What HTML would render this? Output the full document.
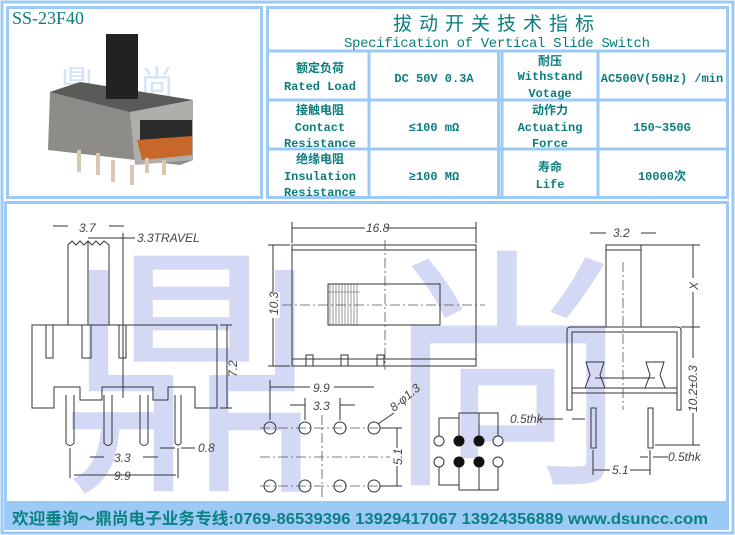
<!DOCTYPE html>
<html><head><meta charset="utf-8"><style>
html,body{margin:0;padding:0;background:#fff}
svg{display:block}
.t{fill:#0b7d7d;font-weight:bold;font-size:12px;text-anchor:middle;font-family:"Liberation Mono","Noto Sans CJK SC",monospace}
.d{fill:#444;font-style:italic;font-size:12px;font-family:"Liberation Sans",sans-serif}
.l{stroke:#333;stroke-width:1;fill:none}
.c{stroke:#555;stroke-width:0.8;fill:none;stroke-dasharray:10 3 2 3}
</style></head><body>
<svg width="735" height="535" viewBox="0 0 735 535" xmlns="http://www.w3.org/2000/svg">
<rect x="0" y="0" width="735" height="535" fill="#fff"/>
<g fill="none" stroke="#9ccaf6" stroke-width="3">
<rect x="2" y="2" width="731" height="531"/>
<rect x="7.5" y="7.5" width="254" height="190"/>
<rect x="267.5" y="7.5" width="460" height="190"/>
<rect x="5.5" y="202.5" width="722" height="300"/>
<line x1="268" y1="51" x2="727" y2="51"/>
<line x1="268" y1="100" x2="727" y2="100"/>
<line x1="268" y1="149" x2="727" y2="149"/>
<line x1="369" y1="51" x2="369" y2="197"/>
<line x1="498.5" y1="51" x2="498.5" y2="197"/>
<line x1="502" y1="51" x2="502" y2="197"/>
<line x1="598" y1="51" x2="598" y2="197"/>
</g>
<rect x="4" y="503" width="725" height="27" fill="#9ccaf6"/>
<!-- photo -->
<text x="12" y="24" style="font-family:'Liberation Serif',serif;font-size:18px" fill="#0b7d7d">SS-23F40</text>
<text x="60" y="95" style="font-family:'Noto Sans CJK SC',sans-serif;font-size:34px" fill="#d4e4f6">鼎</text>
<text x="140" y="95" style="font-family:'Noto Sans CJK SC',sans-serif;font-size:34px" fill="#d4e4f6">尚</text>
<polygon points="50,92 80,82 193,100 193,160 180,165 48,150" fill="#8e8c88"/>
<polygon points="50,92 80,82 193,100 130,112" fill="#5a5a58"/>
<polygon points="130,112 193,100 193,160 135,165" fill="#b0aeaa"/>
<rect x="140" y="120" width="52" height="20" fill="#2a2a2a"/>
<polygon points="137,140 192,136 192,155 142,160" fill="#c8672a"/>
<rect x="106" y="34" width="32" height="65" fill="#222"/>
<g fill="#d8c8b0"><rect x="77" y="150" width="4" height="22"/><rect x="96" y="153" width="4" height="22"/><rect x="111" y="160" width="4" height="22"/><rect x="130" y="165" width="4" height="20"/><rect x="145" y="158" width="4" height="15"/><rect x="162" y="160" width="4" height="15"/></g>
<!-- table -->
<text x="497" y="30" style="font-family:'Noto Sans CJK SC',sans-serif;font-size:19px;letter-spacing:7px" fill="#0b7d7d" text-anchor="middle">拔动开关技术指标</text>
<text x="344" y="47" style="font-family:'Liberation Mono',monospace;font-size:14px" fill="#0b7d7d" textLength="306">Specification of Vertical Slide Switch</text>
<text class="t" x="320" y="72">额定负荷</text><text class="t" x="320" y="90">Rated Load</text>
<text class="t" x="320" y="114">接触电阻</text><text class="t" x="320" y="131">Contact</text><text class="t" x="320" y="147">Resistance</text>
<text class="t" x="320" y="163">绝缘电阻</text><text class="t" x="320" y="180">Insulation</text><text class="t" x="320" y="196">Resistance</text>
<text class="t" x="434" y="82">DC 50V 0.3A</text>
<text class="t" x="434" y="131">≤100 mΩ</text>
<text class="t" x="434" y="180">≥100 MΩ</text>
<text class="t" x="550" y="65">耐压</text><text class="t" x="550" y="80">Withstand</text><text class="t" x="550" y="97">Votage</text>
<text class="t" x="550" y="114">动作力</text><text class="t" x="550" y="131">Actuating</text><text class="t" x="550" y="147">Force</text>
<text class="t" x="550" y="171">寿命</text><text class="t" x="550" y="188">Life</text>
<text class="t" x="662" y="82">AC500V(50Hz) /min</text>
<text class="t" x="662" y="131">150~350G</text>
<text class="t" x="662" y="180">10000次</text>
<!-- watermark -->
<text x="60" y="470" style="font-family:'Noto Sans CJK SC',sans-serif;font-size:265px" fill="#d3d8f4">鼎</text>
<text x="380" y="465" style="font-family:'Noto Sans CJK SC',sans-serif;font-size:255px" fill="#d3d8f4">尚</text>
<!-- left side view -->
<path class="l" d="M32,325 H217 V408 H195 V387 H168 V400 H153 V387 H102 V400 H95 V400 H80 V387 H54 V408 H32 Z"/>
<path class="l" d="M68,325 V245 L72,241 L76,245 L80,241 L84,245 L88,241 L92,245 L96,241 L100,245 L104,241 L109,245 V325"/>
<line class="l" x1="88" y1="242" x2="88" y2="325"/>
<g class="l"><rect x="46" y="325" width="7" height="33"/><rect x="82" y="325" width="9" height="33"/><rect x="119" y="325" width="7" height="33"/></g>
<g class="l"><path d="M66,395 V443 Q70,448 74,443 V395"/><path d="M104,395 V443 Q108,448 112,443 V395"/><path d="M140,395 V443 Q144,448 148,443 V395"/><path d="M175,395 V443 Q178,447 181,443 V395"/></g>
<line class="l" x1="123" y1="233" x2="123" y2="398"/>
<g class="l"><line x1="53" y1="226" x2="68" y2="226"/><line x1="109" y1="226" x2="124" y2="226"/><line x1="88" y1="238" x2="135" y2="238"/><line x1="220" y1="325" x2="232" y2="325"/><line x1="227" y1="325" x2="227" y2="408"/><line x1="220" y1="408" x2="232" y2="408"/><line x1="90" y1="457" x2="104" y2="457"/><line x1="143" y1="457" x2="158" y2="457"/><line x1="74" y1="475" x2="176" y2="475"/><line x1="160" y1="448" x2="175" y2="448"/><line x1="181" y1="448" x2="195" y2="448"/><line x1="70" y1="448" x2="70" y2="478"/><line x1="178" y1="448" x2="178" y2="478"/></g>
<text class="d" x="79" y="232">3.7</text>
<text class="d" x="137" y="242" fill="#555">3.3TRAVEL</text>
<text class="d" x="222" y="372" transform="rotate(-90 232 367)">7.2</text>
<text class="d" x="114" y="462">3.3</text>
<text class="d" x="114" y="480">9.9</text>
<text class="d" x="198" y="452" fill="#555">0.8</text>
<!-- top view -->
<rect class="l" x="292" y="245" width="184" height="121"/>
<line class="l" x1="292" y1="250" x2="476" y2="250"/>
<line class="l" x1="292" y1="359" x2="476" y2="359"/>
<rect class="l" x="328" y="284" width="112" height="41"/>
<g stroke="#555" stroke-width="0.6"><line x1="330" y1="284" x2="330" y2="325"/><line x1="333" y1="284" x2="333" y2="325"/><line x1="336" y1="284" x2="336" y2="325"/><line x1="339" y1="284" x2="339" y2="325"/><line x1="342" y1="284" x2="342" y2="325"/><line x1="345" y1="284" x2="345" y2="325"/><line x1="348" y1="284" x2="348" y2="325"/><line x1="351" y1="284" x2="351" y2="325"/><line x1="354" y1="284" x2="354" y2="325"/><line x1="357" y1="284" x2="357" y2="325"/><line x1="328" y1="292" x2="360" y2="292"/></g>
<g class="l"><rect x="306" y="355" width="7" height="11"/><rect x="341" y="355" width="7" height="11"/><rect x="377" y="355" width="7" height="11"/></g>
<line class="c" x1="282" y1="305" x2="485" y2="305"/>
<line class="c" x1="385" y1="240" x2="385" y2="370"/>
<g class="l"><line x1="292" y1="222" x2="292" y2="243"/><line x1="476" y1="222" x2="476" y2="243"/><line x1="292" y1="228" x2="476" y2="228"/><line x1="268" y1="245" x2="290" y2="245"/><line x1="268" y1="366" x2="290" y2="366"/><line x1="273" y1="245" x2="273" y2="366"/></g>
<rect x="365" y="221" width="22" height="12" fill="#fff"/>
<text class="d" x="366" y="232">16.8</text>
<rect x="266" y="292" width="14" height="26" fill="#fff"/>
<text class="d" x="263" y="310" transform="rotate(-90 273 305)">10.3</text>
<!-- holes -->
<g class="l"><circle cx="270" cy="428" r="6"/><circle cx="305" cy="428" r="6"/><circle cx="340" cy="428" r="6"/><circle cx="374" cy="428" r="6"/><circle cx="270" cy="486" r="6"/><circle cx="305" cy="486" r="6"/><circle cx="340" cy="486" r="6"/><circle cx="374" cy="486" r="6"/></g>
<line class="c" x1="260" y1="428" x2="400" y2="428"/><line class="c" x1="260" y1="486" x2="400" y2="486"/><line class="c" x1="260" y1="457" x2="390" y2="457"/><line class="c" x1="322" y1="415" x2="322" y2="498"/>
<g class="l"><line x1="270" y1="380" x2="270" y2="420"/><line x1="270" y1="387" x2="374" y2="387"/><line x1="305" y1="398" x2="305" y2="420"/><line x1="340" y1="398" x2="340" y2="420"/><line x1="290" y1="405" x2="305" y2="405"/><line x1="340" y1="405" x2="355" y2="405"/><line x1="380" y1="428" x2="402" y2="428"/><line x1="380" y1="486" x2="402" y2="486"/><line x1="397" y1="428" x2="397" y2="486"/><line x1="378" y1="424" x2="394" y2="413"/></g>
<rect x="310" y="381" width="24" height="12" fill="#fff"/>
<text class="d" x="313" y="392">9.9</text>
<text class="d" x="313" y="410">3.3</text>
<text class="d" x="394" y="412" transform="rotate(-40 394 412)" fill="#555">8-φ1.3</text>
<rect x="392" y="448" width="10" height="18" fill="#fff"/>
<text class="d" x="389" y="462" transform="rotate(-90 397 457)">5.1</text>
<!-- schematic -->
<g class="l"><path d="M439,436 V418 H459 V436"/><path d="M459,418 V413 H498 V436"/><path d="M479,413 V436"/><path d="M439,467 V485 H459 V467"/><path d="M479,467 V490 H498 V467"/><path d="M459,485 V490 H479"/></g>
<g stroke="#333" fill="#fff"><circle cx="439" cy="441" r="5"/><circle cx="498" cy="441" r="5"/><circle cx="439" cy="462" r="5"/><circle cx="498" cy="462" r="5"/></g>
<g fill="#111"><circle cx="459" cy="441" r="5.5"/><circle cx="479" cy="441" r="5.5"/><circle cx="459" cy="462" r="5.5"/><circle cx="479" cy="462" r="5.5"/></g>
<!-- right side view -->
<rect class="l" x="606" y="245" width="35" height="82"/>
<line class="l" x1="606" y1="250" x2="641" y2="250"/>
<path class="l" d="M567,410 V330 Q567,327 571,327 H677 Q681,327 681,330 V410 H677 V332 H572 V410 Z"/>
<line class="l" x1="572" y1="393" x2="677" y2="393"/><line class="l" x1="572" y1="388" x2="677" y2="388"/>
<path class="l" d="M585,388 L590,375 L586,362 H604 L600,375 L605,388"/><path class="l" d="M645,388 L650,375 L646,362 H664 L660,375 L665,388"/>
<line class="l" x1="595" y1="378" x2="655" y2="378"/>
<g class="l"><rect x="591" y="408" width="5" height="40"/><rect x="648" y="408" width="5" height="40"/></g>
<line class="c" x1="623" y1="262" x2="623" y2="410"/>
<g class="l"><line x1="590" y1="233" x2="606" y2="233"/><line x1="641" y1="233" x2="656" y2="233"/><line x1="641" y1="245" x2="700" y2="245"/><line x1="693" y1="245" x2="693" y2="445"/><line x1="681" y1="327" x2="700" y2="327"/><line x1="655" y1="445" x2="700" y2="445"/><line x1="593" y1="450" x2="593" y2="475"/><line x1="650" y1="450" x2="650" y2="475"/><line x1="593" y1="470" x2="650" y2="470"/><line x1="540" y1="419" x2="563" y2="419"/><line x1="572" y1="419" x2="585" y2="419"/><line x1="640" y1="457" x2="648" y2="457"/><line x1="653" y1="457" x2="668" y2="457"/></g>
<text class="d" x="613" y="237">3.2</text>
<rect x="687" y="278" width="12" height="14" fill="#fff"/>
<text class="d" x="688" y="290" transform="rotate(-90 693 285)">X</text>
<rect x="687" y="358" width="12" height="55" fill="#fff"/>
<text class="d" x="667" y="390" transform="rotate(-90 693 386)">10.2±0.3</text>
<text class="d" x="510" y="423" fill="#555">0.5thk</text>
<text class="d" x="668" y="461" fill="#555">0.5thk</text>
<rect x="610" y="464" width="20" height="12" fill="#fff"/>
<text class="d" x="612" y="474" fill="#555">5.1</text>
<!-- footer -->
<text x="12" y="524" style="font-family:'Liberation Sans','Noto Sans CJK SC',sans-serif;font-size:16px;font-weight:bold" fill="#0b8080" textLength="696" lengthAdjust="spacingAndGlyphs">欢迎垂询～鼎尚电子业务专线:0769-86539396  13929417067 13924356889  www.dsuncc.com</text>
</svg>
</body></html>
